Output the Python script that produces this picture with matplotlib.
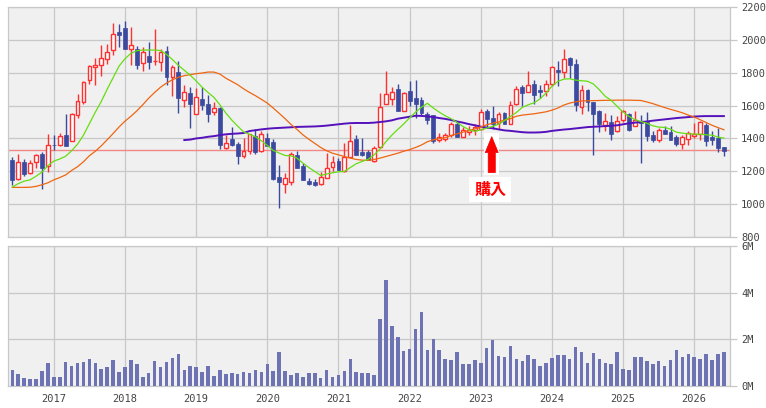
import matplotlib
matplotlib.use("Agg")
import matplotlib.pyplot as plt
import numpy as np
import pandas as pd
from matplotlib.patches import FancyArrow, Rectangle

RED = "#ff3030"
BLUE = "#3b4a9e"
VOL = "#6d73b3"
GREEN = "#66dd11"
ORANGE = "#ee6611"
PURPLE = "#5511bb"
NOW_LINE = "#f08888"
GRID = "#c8c8c8"
BG = "#f0f0f0"
TXT = "#444444"

# monthly candles, Jun 2016 .. Jun 2026
months = pd.period_range("2016-06", "2026-06", freq="M")
opens = [1270, 1152, 1258, 1189, 1254, 1306, 1233, 1363, 1357, 1422,
         1382, 1542, 1619, 1755, 1834, 1844, 1881, 1938, 2048, 2072,
         1944, 1944, 1859, 1903, 1869, 1863, 1934, 1771, 1806, 1631,
         1678, 1550, 1642, 1611, 1558, 1587, 1339, 1398, 1367, 1292,
         1323, 1416, 1325, 1402, 1378, 1164, 1122, 1134, 1299, 1234,
         1142, 1136, 1122, 1158, 1227, 1260, 1201, 1284, 1394, 1315,
         1317, 1262, 1346, 1610, 1640, 1703, 1569, 1690, 1645, 1636,
         1550, 1540, 1392, 1396, 1418, 1489, 1408, 1437, 1451, 1456,
         1566, 1524, 1491, 1555, 1489, 1611, 1711, 1682, 1731, 1696,
         1686, 1731, 1818, 1804, 1889, 1853, 1591, 1696, 1619, 1568,
         1483, 1503, 1443, 1514, 1550, 1477, 1508, 1503, 1422, 1392,
         1453, 1437, 1406, 1367, 1396, 1416, 1428, 1483, 1406, 1402,
         1345]
highs = [1286, 1304, 1276, 1266, 1304, 1317, 1428, 1418, 1434, 1550,
         1556, 1672, 1750, 1847, 1887, 1970, 1976, 2104, 2098, 2112,
         2076, 1964, 1954, 1985, 2064, 1942, 1964, 1848, 1873, 1725,
         1715, 1709, 1715, 1666, 1621, 1590, 1422, 1467, 1378, 1404,
         1428, 1457, 1443, 1434, 1398, 1240, 1189, 1315, 1325, 1250,
         1159, 1154, 1195, 1313, 1290, 1278, 1374, 1483, 1422, 1402,
         1331, 1356, 1675, 1812, 1714, 1731, 1681, 1748, 1755, 1650,
         1560, 1545, 1430, 1430, 1502, 1502, 1470, 1475, 1485, 1577,
         1577, 1600, 1560, 1560, 1629, 1721, 1723, 1812, 1757, 1723,
         1757, 1838, 1869, 1942, 1895, 1883, 1723, 1702, 1619, 1575,
         1554, 1544, 1538, 1575, 1553, 1564, 1544, 1560, 1443, 1463,
         1473, 1473, 1418, 1418, 1443, 1493, 1508, 1493, 1443, 1463,
         1349]
lows = [1118, 1148, 1173, 1185, 1223, 1095, 1193, 1327, 1353, 1351,
        1382, 1522, 1612, 1729, 1723, 1777, 1853, 1909, 1954, 1942,
        1845, 1820, 1808, 1822, 1849, 1808, 1727, 1660, 1552, 1591,
        1461, 1546, 1571, 1497, 1544, 1337, 1333, 1351, 1242, 1280,
        1303, 1307, 1315, 1351, 1146, 974, 1065, 1114, 1217, 1144,
        1118, 1110, 1118, 1158, 1199, 1205, 1197, 1284, 1297, 1290,
        1266, 1258, 1343, 1607, 1603, 1566, 1565, 1599, 1527, 1540,
        1490, 1372, 1376, 1387, 1410, 1407, 1406, 1418, 1422, 1453,
        1461, 1460, 1460, 1485, 1489, 1601, 1595, 1680, 1609, 1646,
        1656, 1717, 1717, 1767, 1767, 1570, 1550, 1564, 1300, 1439,
        1443, 1392, 1440, 1503, 1447, 1473, 1250, 1382, 1378, 1378,
        1426, 1392, 1351, 1335, 1361, 1402, 1392, 1351, 1361, 1315,
        1290]
closes = [1144, 1258, 1185, 1250, 1298, 1217, 1359, 1357, 1414, 1351,
          1550, 1627, 1745, 1840, 1846, 1889, 1926, 2035, 2027, 1942,
          1970, 1848, 1926, 1863, 1873, 1926, 1771, 1832, 1644, 1682,
          1607, 1654, 1605, 1546, 1587, 1357, 1374, 1363, 1292, 1321,
          1428, 1315, 1426, 1351, 1154, 1132, 1159, 1305, 1217, 1144,
          1122, 1114, 1167, 1219, 1256, 1205, 1290, 1386, 1297, 1297,
          1270, 1342, 1591, 1671, 1683, 1566, 1676, 1630, 1608, 1555,
          1512, 1385, 1406, 1422, 1489, 1408, 1450, 1450, 1470, 1562,
          1518, 1485, 1548, 1490, 1605, 1702, 1674, 1727, 1666, 1680,
          1731, 1832, 1802, 1885, 1844, 1605, 1696, 1621, 1550, 1487,
          1508, 1426, 1508, 1564, 1453, 1514, 1493, 1412, 1392, 1453,
          1426, 1392, 1367, 1408, 1433, 1428, 1499, 1382, 1388, 1341,
          1321]
volume_m = [0.69, 0.51, 0.34, 0.30, 0.30, 0.64, 0.99, 0.39, 0.39, 1.03,
            0.86, 0.99, 1.03, 1.16, 0.99, 0.73, 0.81, 1.11, 0.60, 0.81,
            1.11, 0.94, 0.39, 0.56, 1.07, 0.81, 1.03, 1.20, 1.37, 0.69,
            0.86, 0.81, 0.60, 0.86, 0.43, 0.69, 0.51, 0.56, 0.51, 0.60,
            0.56, 0.69, 0.60, 0.94, 0.64, 1.46, 0.64, 0.47, 0.56, 0.39,
            0.56, 0.56, 0.34, 0.69, 0.39, 0.47, 0.64, 1.16, 0.60, 0.56,
            0.56, 0.47, 2.87, 4.54, 2.57, 2.10, 1.50, 1.59, 2.44, 3.17,
            1.54, 2.01, 1.54, 1.16, 1.11, 1.46, 0.94, 0.94, 1.11, 0.99,
            1.63, 1.97, 1.29, 1.24, 1.71, 1.16, 1.07, 1.33, 1.16, 0.86,
            0.99, 1.20, 1.33, 1.33, 1.16, 1.67, 1.46, 0.99, 1.41, 1.16,
            0.99, 0.94, 1.46, 0.73, 0.69, 1.24, 1.24, 1.07, 0.94, 1.07,
            0.86, 1.11, 1.54, 1.24, 1.37, 1.24, 1.16, 1.37, 1.11, 1.37,
            1.46]

# moving averages as drawn on the chart
ma_short = [1104, 1125, 1140, 1148, 1170, 1195, 1235, 1262, 1275, 1292,
            1325, 1365, 1420, 1490, 1560, 1625, 1700, 1770, 1840, 1885,
            1918, 1934, 1938, 1938, 1938, 1935, 1912, 1880, 1845, 1815,
            1785, 1750, 1712, 1680, 1650, 1605, 1555, 1512, 1475, 1440,
            1425, 1410, 1386, 1357, 1327, 1311, 1296, 1294, 1280, 1250,
            1223, 1199, 1175, 1183, 1191, 1197, 1199, 1223, 1246, 1260,
            1273, 1300, 1335, 1380, 1420, 1455, 1488, 1525, 1560, 1590,
            1614, 1585, 1560, 1538, 1520, 1497, 1473, 1453, 1443, 1453,
            1463, 1473, 1487, 1508, 1534, 1558, 1589, 1605, 1617, 1641,
            1676, 1717, 1747, 1761, 1763, 1755, 1751, 1748, 1731, 1696,
            1656, 1632, 1595, 1560, 1534, 1514, 1503, 1493, 1477, 1469,
            1467, 1457, 1438, 1432, 1428, 1426, 1426, 1422, 1420, 1408,
            1402]
ma_mid = [1102, 1102, 1102, 1103, 1108, 1118, 1130, 1148, 1162, 1178,
          1205, 1228, 1258, 1295, 1322, 1355, 1392, 1430, 1470, 1505,
          1535, 1568, 1605, 1645, 1680, 1712, 1737, 1757, 1772, 1782,
          1788, 1794, 1798, 1804, 1804, 1792, 1767, 1747, 1727, 1702,
          1680, 1660, 1638, 1615, 1585, 1553, 1520, 1485, 1455, 1422,
          1395, 1370, 1345, 1325, 1310, 1300, 1290, 1280, 1272, 1268,
          1266, 1272, 1280, 1290, 1300, 1310, 1322, 1332, 1345, 1360,
          1380, 1392, 1398, 1404, 1418, 1428, 1438, 1448, 1458, 1470,
          1483, 1493, 1500, 1512, 1520, 1535, 1542, 1546, 1550, 1556,
          1562, 1572, 1585, 1603, 1615, 1623, 1628, 1629, 1630, 1631,
          1632, 1632, 1633, 1633, 1633, 1632, 1631, 1622, 1612, 1600,
          1588, 1577, 1567, 1556, 1542, 1530, 1514, 1497, 1480, 1466,
          1453]
ma_long = [np.nan] * 29 + [
    1390, 1393, 1400, 1404, 1410, 1414, 1420, 1425, 1428, 1430,
    1433, 1445, 1450, 1455, 1459, 1462, 1464, 1466, 1468, 1470,
    1471, 1472, 1473, 1475, 1478, 1482, 1486, 1490, 1493, 1494,
    1494, 1494, 1496, 1500, 1504, 1510, 1520, 1526, 1532, 1538,
    1537, 1534, 1530, 1524, 1519, 1512, 1503, 1496, 1487, 1480,
    1472, 1466, 1462, 1455, 1449, 1446, 1442, 1438, 1436, 1436,
    1437, 1440, 1446, 1450, 1454, 1457, 1461, 1465, 1469, 1471,
    1473, 1475, 1477, 1480, 1486, 1492, 1496, 1500, 1503, 1508,
    1512, 1516, 1520, 1524, 1527, 1530, 1533, 1535, 1536, 1536,
    1536, 1536]
last_price = 1327
buy_label = "購入"

x = np.arange(len(months))
o = np.array(opens, float)
h = np.array(highs, float)
l = np.array(lows, float)
c = np.array(closes, float)
up = c >= o

fig = plt.figure(figsize=(7.66, 4.08), dpi=100, facecolor="white")
ax = fig.add_axes([8 / 766, 1 - 237 / 408, 722 / 766, 230 / 408])
axv = fig.add_axes([8 / 766, 1 - 386 / 408, 722 / 766, 140 / 408])

year_idx = [i for i, m in enumerate(months) if m.month == 1]
year_lab = [str(months[i].year) for i in year_idx]

for a in (ax, axv):
    a.set_facecolor(BG)
    a.set_xlim(-0.73, 121.03)
    a.set_xticks(year_idx)
    a.grid(True, color=GRID, linewidth=0.9)
    a.set_axisbelow(True)
    a.yaxis.tick_right()
    a.tick_params(axis="y", length=5, width=0.9, color=GRID, pad=3,
                  labelsize=7.5, labelcolor=TXT)
    a.tick_params(axis="x", length=0, pad=6, labelsize=7.5, labelcolor=TXT)
    for s in a.spines.values():
        s.set_color(GRID)
        s.set_linewidth(0.9)

ax.set_xticklabels([])
axv.set_xticklabels(year_lab, family="DejaVu Sans Mono")

# price panel
ax.set_ylim(800, 2200)
ax.set_yticks(range(800, 2201, 200))
ax.set_yticklabels([str(v) for v in range(800, 2201, 200)],
                   family="DejaVu Sans Mono")
ax.axhline(last_price, color=NOW_LINE, linewidth=1.0, zorder=1.5)

ax.vlines(x[up], l[up], h[up], color=RED, linewidth=1.0, zorder=2)
ax.vlines(x[~up], l[~up], h[~up], color=BLUE, linewidth=1.0, zorder=2)
body_lo = np.minimum(o, c)
body_h = np.maximum(np.abs(c - o), 4)
ax.bar(x[up], body_h[up], bottom=body_lo[up], width=0.64, facecolor="white",
       edgecolor=RED, linewidth=1.0, zorder=3)
ax.bar(x[~up], body_h[~up], bottom=body_lo[~up], width=0.66, facecolor=BLUE,
       edgecolor=BLUE, linewidth=0.5, zorder=3)

ax.plot(x, ma_long, color=PURPLE, linewidth=1.4, zorder=4)
ax.plot(x, ma_mid, color=ORANGE, linewidth=0.9, zorder=4)
ax.plot(x, ma_short, color=GREEN, linewidth=0.9, zorder=4)

# buy marker
ax.add_patch(Rectangle((79.6, 1180), 2.5, 256, facecolor="white",
                       edgecolor="none", zorder=5))
ax.add_patch(FancyArrow(80.85, 1192, 0, 219, width=1.2, head_width=2.2,
                        head_length=97, length_includes_head=True,
                        facecolor="#ff0000", edgecolor="#ee0000",
                        linewidth=0.5, zorder=6))
ax.text(80.6, 1088, buy_label, ha="center", va="center", color="#ff0000",
        fontsize=11.5, fontweight="bold",
        family=["Noto Sans CJK JP", "DejaVu Sans"],
        bbox=dict(boxstyle="square,pad=0.3", facecolor="white", edgecolor="none"),
        zorder=6)

# volume panel
axv.set_ylim(0, 6)
axv.set_yticks([0, 2, 4, 6])
axv.set_yticklabels(["0M", "2M", "4M", "6M"], family="DejaVu Sans Mono")
axv.bar(x, volume_m, width=0.6, color=VOL, zorder=3)

fig.savefig("out.png", dpi=100, facecolor="white")
